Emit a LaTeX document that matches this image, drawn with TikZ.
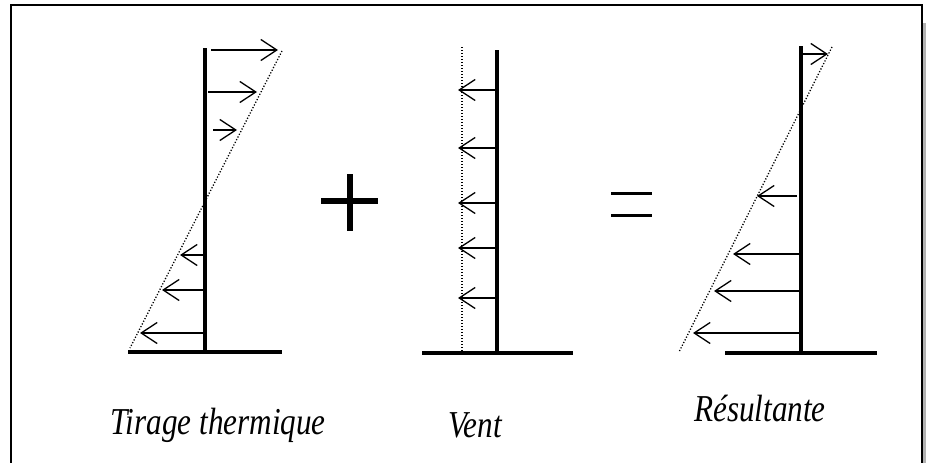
\documentclass[tikz,border=0pt]{standalone}
\usepackage{fontspec}
\setmainfont{Liberation Serif}
\usetikzlibrary{arrows.meta}
\begin{document}
\begin{tikzpicture}[x=1pt,y=-1pt,
  wall/.style={line width=3.2pt},
  ground/.style={line width=4pt},
  profile/.style={line width=1.3pt,dash pattern=on 1.2pt off 1.8pt},
  force/.style={line width=1.3pt,-{Straight Barb[length=16pt,width=21pt,line width=1.3pt]}},
  caption/.style={font=\itshape\fontsize{38}{40}\selectfont,xscale=0.82,inner sep=0pt,anchor=base},
  sign/.style={line width=6pt}]
\useasboundingbox (0,0) rectangle (927,463);
% frame with shadow
\fill[gray!60] (922,23) rectangle (926,463);
\draw[line width=2pt] (11,470) -- (11,5) -- (922,5) -- (922,470);
% ---------- panel 1 : Tirage thermique
\coordinate (w1t) at (205,48);
\coordinate (w1b) at (205,352);
\draw[wall] (w1t) -- (w1b);
\draw[ground] (128,352) -- (282,352);
\draw[profile] (282,51) -- (130,348);
\draw[force] (211,50) -- (278,50);
\draw[force] (208,92) -- (257,92);
\draw[force] (213,130) -- (237,130);
\draw[force] (205,255) -- (180,255);
\draw[force] (205,290) -- (162,290);
\draw[force] (205,333) -- (140,333);
% ---------- plus
\draw[sign] (350,174) -- (350,231);
\draw[sign] (321,201) -- (378,201);
% ---------- panel 2 : Vent
\draw[wall] (497,50) -- (497,353);
\draw[ground] (422,353) -- (573,353);
\draw[profile] (462,47) -- (462,352);
\foreach \yy in {90,148,203,248,298}
  \draw[force] (497,\yy) -- (458,\yy);
% ---------- equals
\draw[line width=3pt] (611,193.5) -- (652,193.5);
\draw[line width=3pt] (611,215.5) -- (652,215.5);
% ---------- panel 3 : Resultante
\draw[wall] (801,46) -- (801,353);
\draw[ground] (725,353) -- (877,353);
\draw[profile] (832,47) -- (679,352);
\draw[force] (801,54) -- (828,54);
\draw[force] (797,196) -- (757,196);
\draw[force] (801,254) -- (733,254);
\draw[force] (801,291) -- (714,291);
\draw[force] (801,333) -- (693,333);
% ---------- captions
\node[caption] (c1) at (218,434) {Tirage thermique};
\node[caption] (c2) at (475,437) {Vent};
\node[caption] (c3) at (760,421) {Résultante};
\end{tikzpicture}
\end{document}
